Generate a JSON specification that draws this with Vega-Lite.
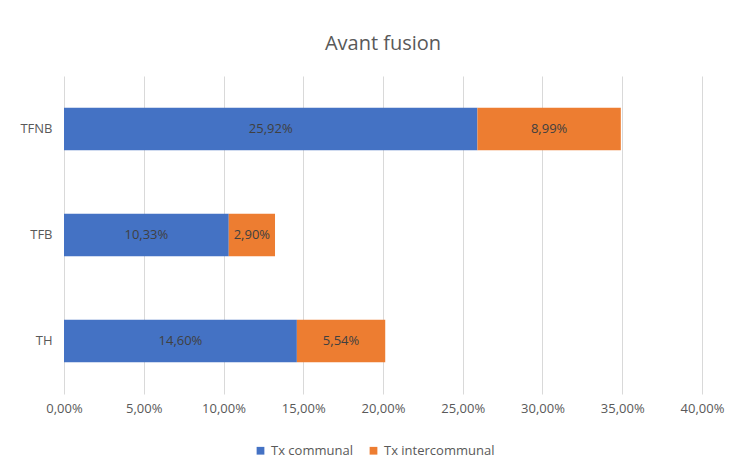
{
  "$schema": "https://vega.github.io/schema/vega-lite/v6.json",
  "autosize": "none",
  "width": 638,
  "height": 318,
  "padding": {"left": 64, "top": 76, "right": 36, "bottom": 74},
  "background": "white",
  "config": {
    "locale": {"number": {"decimal": ",", "thousands": " ", "grouping": [3], "currency": ["", " €"]}},
    "view": {"stroke": null},
    "font": "Open Sans"
  },
  "title": {"text": "Avant fusion", "fontSize": 20, "fontWeight": "normal", "color": "#595959", "offset": 22, "font": "Open Sans"},
  "data": {"values": [
    {"cat": "TFNB", "series": "Tx communal", "v": 0.2592},
    {"cat": "TFNB", "series": "Tx intercommunal", "v": 0.0899},
    {"cat": "TFB", "series": "Tx communal", "v": 0.1033},
    {"cat": "TFB", "series": "Tx intercommunal", "v": 0.0290},
    {"cat": "TH", "series": "Tx communal", "v": 0.1460},
    {"cat": "TH", "series": "Tx intercommunal", "v": 0.0554}
  ]},
  "transform": [
    {"stack": "v", "groupby": ["cat"], "sort": [{"field": "series"}], "as": ["v0", "v1"]},
    {"calculate": "(datum.v0 + datum.v1) / 2", "as": "vmid"}
  ],
  "encoding": {
    "y": {"field": "cat", "type": "nominal", "sort": ["TFNB", "TFB", "TH"],
      "scale": {"paddingInner": 0.6, "paddingOuter": 0.3},
      "axis": {"title": null, "ticks": false, "domain": false, "labelColor": "#595959", "labelFontSize": 13, "labelPadding": 12}}
  },
  "layer": [
    {
      "mark": {"type": "bar"},
      "encoding": {
        "x": {"field": "v0", "type": "quantitative",
          "scale": {"domain": [0, 0.4], "nice": false},
          "axis": {"title": null, "format": ".2%", "values": [0,0.05,0.1,0.15,0.2,0.25,0.3,0.35,0.4], "labelOverlap": false, "labelFlush": false,
            "ticks": false, "domain": false, "gridColor": "#d9d9d9", "labelColor": "#595959", "labelFontSize": 13, "labelPadding": 8}},
        "x2": {"field": "v1"},
        "color": {"field": "series", "type": "nominal",
          "scale": {"domain": ["Tx communal", "Tx intercommunal"], "range": ["#4472C4", "#ED7D31"]},
          "legend": {"title": null, "orient": "none", "direction": "horizontal", "legendX": 190, "legendY": 368,
            "symbolType": "square", "symbolSize": 60, "labelColor": "#595959", "labelFontSize": 13, "columnPadding": 14}}
      }
    },
    {
      "mark": {"type": "text", "color": "#404040", "fontSize": 13},
      "encoding": {
        "x": {"field": "vmid", "type": "quantitative"},
        "text": {"field": "v", "type": "quantitative", "format": ".2%"}
      }
    }
  ]
}
